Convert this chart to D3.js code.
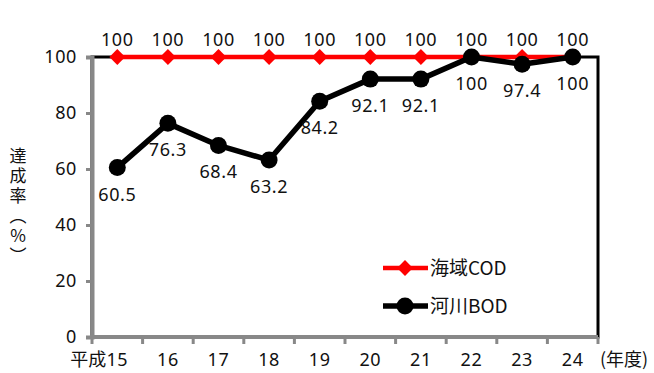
<!DOCTYPE html>
<html>
<head>
<meta charset="utf-8">
<script src="https://cdn.jsdelivr.net/npm/d3@7"></script>
<style>
  body { margin: 0; background: #fff; }
  text { font-family: "Noto Sans CJK JP", "Noto Sans", sans-serif; fill: #111; }
  .num { font-family: "Noto Sans", sans-serif; font-size: 18px; letter-spacing: 0.6px; }
</style>
</head>
<body>
<div id="chart"></div>
<script>
// fiscal years (Heisei)
const years = ["15", "16", "17", "18", "19", "20", "21", "22", "23", "24"];
const codValues = [100, 100, 100, 100, 100, 100, 100, 100, 100, 100];
const bodValues = [60.5, 76.3, 68.4, 63.2, 84.2, 92.1, 92.1, 100, 97.4, 100];
const yTicks = [0, 20, 40, 60, 80, 100];
const seriesNames = ["海域COD", "河川BOD"];

const width = 654, height = 373;
const margin = { top: 57, right: 56, bottom: 36, left: 92 };
const innerW = width - margin.left - margin.right;
const innerH = height - margin.top - margin.bottom;

const svg = d3.select("#chart").append("svg")
  .attr("width", width)
  .attr("height", height);

const g = svg.append("g")
  .attr("transform", `translate(${margin.left},${margin.top})`);

const x = d3.scaleBand().domain(years).range([0, innerW]);
const y = d3.scaleLinear().domain([0, 100]).range([innerH, 0]);
const cx = d => x(d) + x.bandwidth() / 2;

// plot border
g.append("rect")
  .attr("width", innerW).attr("height", innerH)
  .attr("fill", "none").attr("stroke", "#000").attr("stroke-width", 3);

// y axis
const yAxis = g.append("g")
  .call(d3.axisLeft(y).tickValues(yTicks).tickSize(6).tickPadding(9));
yAxis.select(".domain").attr("stroke", "#888").attr("stroke-width", 4);
yAxis.selectAll(".tick line").attr("stroke", "#888").attr("stroke-width", 3);
yAxis.selectAll("text").attr("class", "num").attr("fill", "#111");

// x axis: ticks at band boundaries, labels at band centres
const xBottom = g.append("g").attr("transform", `translate(0,${innerH})`);
xBottom.append("line")
  .attr("x1", -2).attr("x2", innerW)
  .attr("stroke", "#888").attr("stroke-width", 4);
xBottom.selectAll(".xt")
  .data(years.map(d => x(d)).concat([innerW]))
  .join("line")
  .attr("x1", d => d).attr("x2", d => d)
  .attr("y1", 0).attr("y2", 7)
  .attr("stroke", "#888").attr("stroke-width", 3);
xBottom.selectAll(".xl")
  .data(years)
  .join("text")
  .attr("class", "num")
  .attr("x", d => cx(d))
  .attr("y", 29)
  .attr("text-anchor", "middle")
  .text(d => d);
xBottom.append("text")
  .attr("x", cx(years[0]) - 11).attr("y", 29)
  .attr("text-anchor", "end")
  .style("font-size", "18px")
  .text("平成");
xBottom.append("text")
  .attr("x", innerW + 2).attr("y", 29)
  .style("font-size", "18px")
  .text("(年度)");

// y title, vertical
svg.append("text")
  .attr("x", 18)
  .attr("y", 147)
  .style("font-size", "17px")
  .style("letter-spacing", "3px")
  .style("writing-mode", "vertical-rl")
  .style("text-orientation", "upright")
  .text("達成率（%）");

const line = d3.line().x(d => cx(d[0])).y(d => y(d[1]));
const cod = years.map((d, i) => [d, codValues[i]]);
const bod = years.map((d, i) => [d, bodValues[i]]);

// COD series
g.append("path").datum(cod)
  .attr("d", line).attr("fill", "none")
  .attr("stroke", "#ff0000").attr("stroke-width", 4.5);
const diamond = d3.symbol().type(d3.symbolSquare).size(125);
g.selectAll(".cod")
  .data(cod).join("path")
  .attr("d", diamond)
  .attr("transform", d => `translate(${cx(d[0])},${y(d[1])}) rotate(45)`)
  .attr("fill", "#ff0000");

// BOD series
g.append("path").datum(bod)
  .attr("d", line).attr("fill", "none")
  .attr("stroke", "#000").attr("stroke-width", 5.5)
  .attr("stroke-linejoin", "round");
g.selectAll(".bod")
  .data(bod).join("circle")
  .attr("cx", d => cx(d[0])).attr("cy", d => y(d[1]))
  .attr("r", 8.5).attr("fill", "#000");

// data labels
g.selectAll(".codl")
  .data(cod).join("text")
  .attr("class", "num")
  .attr("x", d => cx(d[0]))
  .attr("y", d => y(d[1]) - 11)
  .attr("text-anchor", "middle")
  .text(d => d[1]);
g.selectAll(".bodl")
  .data(bod).join("text")
  .attr("class", "num")
  .attr("x", d => cx(d[0]))
  .attr("y", d => y(d[1]) + 33)
  .attr("text-anchor", "middle")
  .text(d => d[1]);

// legend
const legend = g.append("g").attr("transform", `translate(${383 - margin.left},${268 - margin.top})`);
legend.append("line").attr("x1", 0).attr("x2", 45)
  .attr("stroke", "#ff0000").attr("stroke-width", 4.5);
legend.append("path").attr("d", diamond)
  .attr("transform", "translate(22,0) rotate(45)").attr("fill", "#ff0000");
legend.append("text").attr("x", 47).attr("y", 7)
  .style("font-size", "19px").text(seriesNames[0]);
legend.append("line").attr("x1", 0).attr("x2", 45)
  .attr("y1", 38).attr("y2", 38)
  .attr("stroke", "#000").attr("stroke-width", 5.5);
legend.append("circle").attr("cx", 22).attr("cy", 38).attr("r", 8.5).attr("fill", "#000");
legend.append("text").attr("x", 47).attr("y", 45)
  .style("font-size", "19px").text(seriesNames[1]);
</script>
</body>
</html>
